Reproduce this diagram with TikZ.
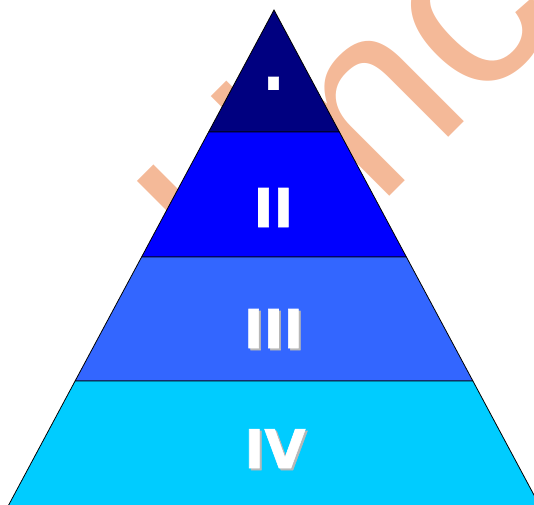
\documentclass[tikz,border=0pt]{standalone}
\usepackage{fontspec}
\usepackage{xcolor}
\usepackage{tikz}
\newfontfamily\tierfont[FakeBold=1]{DejaVu Sans Bold}
\newfontfamily\markfont{Liberation Sans}
\definecolor{tierone}{HTML}{000080}
\definecolor{tiertwo}{HTML}{0000FF}
\definecolor{tierthree}{HTML}{3366FF}
\definecolor{tierfour}{HTML}{00CCFF}
\definecolor{wmarkcol}{RGB}{244,185,152}
\tikzstyle{tier} = [draw=black, line width=0.8pt, line join=miter]
\tikzstyle{tierlabel} = [text=white, inner sep=0pt, anchor=base, font=\tierfont\fontsize{53.5}{54}\selectfont]
\tikzstyle{tiershadow} = [tierlabel, text=black!28]
\tikzstyle{wmark} = [text=wmarkcol, inner sep=0pt, anchor=base west, rotate=45, font=\markfont\fontsize{250}{250}\selectfont]

\begin{document}
\begin{tikzpicture}[x=1pt, y=-1pt]
\useasboundingbox (0,0) rectangle (534,504);
\begin{scope}
\clip (0,0) rectangle (534,504);
% Watermark behind the pyramid
\node (wmL) [wmark] at (244.5,317.5) {L};
\node (wmI) [wmark] at (327.5,236.5) {i};
\node (wmNc) [wmark] at (377.75,208.25) {nc};

% Tiers
\coordinate (apex) at (274,10);
\filldraw [tier, fill=tierone] (apex) -- (339.4,132) -- (208.6,132) -- cycle;
\filldraw [tier, fill=tiertwo] (208.6,132) -- (339.4,132) -- (406.4,257) -- (141.6,257) -- cycle;
\filldraw [tier, fill=tierthree] (141.6,257) -- (406.4,257) -- (472.9,381) -- (75.1,381) -- cycle;
\filldraw [tier, fill=tierfour] (75.1,381) -- (472.9,381) -- (540.4,507) -- (7.6,507) -- cycle;

% Labels
\begin{scope}
\clip (266,76) rectangle (281,89);
\node (lblI) [tierlabel] at (273.5,116) {I};
\end{scope}
\node (lblII) [tierlabel] at (273.5,227) {II};
\node (shIII) [tiershadow] at (275.5,350) {III};
\node (lblIII) [tierlabel] at (273.5,348) {III};
\node (shIV) [tiershadow] at (277,470) {IV};
\node (lblIV) [tierlabel] at (275,468) {IV};
\end{scope}
\end{tikzpicture}
\end{document}
